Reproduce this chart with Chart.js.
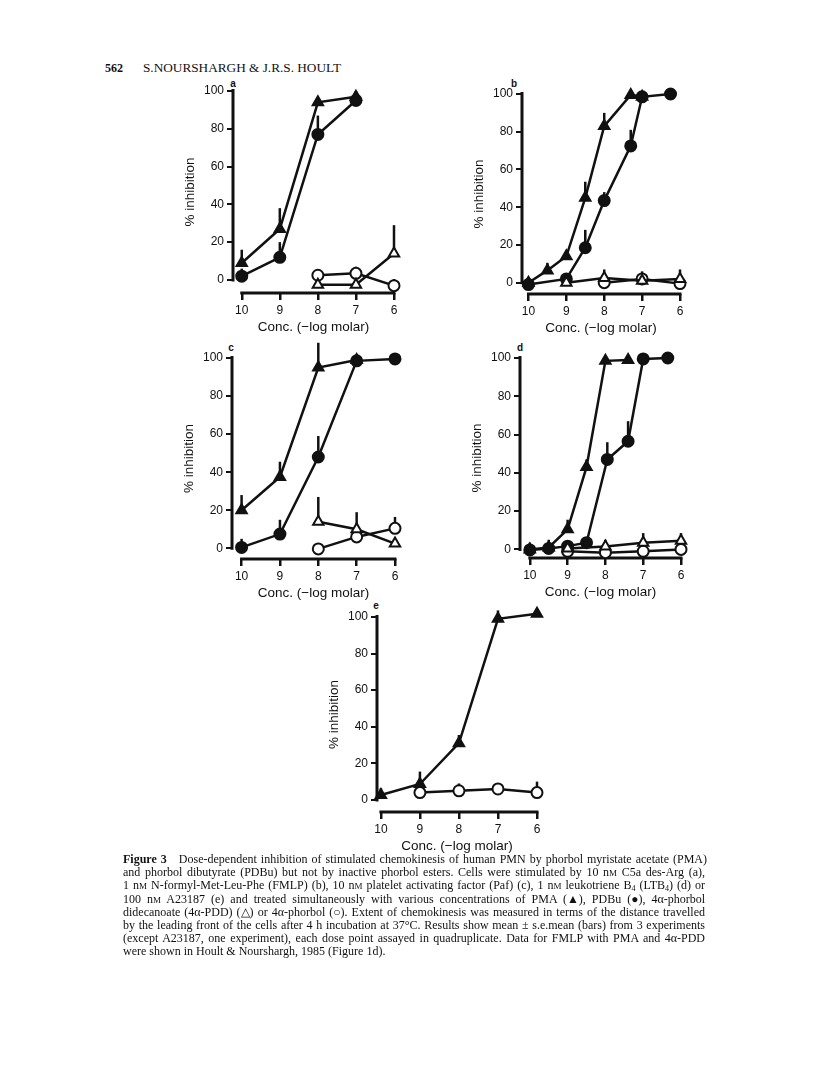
<!DOCTYPE html>
<html>
<head>
<meta charset="utf-8">
<script src="https://cdn.jsdelivr.net/npm/chart.js@4.4.0/dist/chart.umd.min.js"></script>
<style>
  body { margin: 0; background: #fff; }
  #page { position: relative; width: 816px; height: 1073px; overflow: hidden; font-family: "Liberation Serif", "Times New Roman", serif; color: #111; }
  canvas { position: absolute; }
  .letter { position: absolute; font-family: "Liberation Sans", Arial, sans-serif; font-weight: bold; font-size: 10px; transform: translate(-50%, -50%); }
  .head { position: absolute; top: 61px; font-size: 12px; line-height: 14px; white-space: nowrap; transform-origin: left center; }
  .cap { position: absolute; left: 123px; top: 853px; width: 582px; font-size: 12px; line-height: 13.2px; }
  .cap div { white-space: nowrap; height: 13.2px; }
  .cap span.ln { display: inline-block; transform-origin: left center; }
  .sc { font-size: 9px; }
  sub { font-size: 8px; line-height: 0; vertical-align: -2px; }
</style>
</head>
<body>
<div id="page">
  <div class="head" style="left:105px;font-weight:bold">562</div>
  <div class="head fit" data-w="198" style="left:143px">S.NOURSHARGH &amp; J.R.S. HOULT</div>

  <div class="letter" style="left:233px;top:83px">a</div>
  <div class="letter" style="left:514px;top:83px">b</div>
  <div class="letter" style="left:231px;top:347px">c</div>
  <div class="letter" style="left:520px;top:347px">d</div>
  <div class="letter" style="left:376px;top:605px">e</div>

  <canvas id="chartA"></canvas>
  <canvas id="chartB"></canvas>
  <canvas id="chartC"></canvas>
  <canvas id="chartD"></canvas>
  <canvas id="chartE"></canvas>

  <div class="cap">
    <div><span class="ln"><b>Figure 3</b>&nbsp;&nbsp; Dose-dependent inhibition of stimulated chemokinesis of human PMN by phorbol myristate acetate (PMA)</span></div>
    <div><span class="ln">and phorbol dibutyrate (PDBu) but not by inactive phorbol esters. Cells were stimulated by 10 n<span class="sc">M</span> C5a des-Arg (a),</span></div>
    <div><span class="ln">1 n<span class="sc">M</span> N-formyl-Met-Leu-Phe (FMLP) (b), 10 n<span class="sc">M</span> platelet activating factor (Paf) (c), 1 n<span class="sc">M</span> leukotriene B<sub>4</sub> (LTB<sub>4</sub>) (d) or</span></div>
    <div><span class="ln">100 n<span class="sc">M</span> A23187 (e) and treated simultaneously with various concentrations of PMA (▲), PDBu (●), 4α-phorbol</span></div>
    <div><span class="ln">didecanoate (4α-PDD) (△) or 4α-phorbol (○). Extent of chemokinesis was measured in terms of the distance travelled</span></div>
    <div><span class="ln">by the leading front of the cells after 4 h incubation at 37°C. Results show mean ± s.e.mean (bars) from 3 experiments</span></div>
    <div><span class="ln">(except A23187, one experiment), each dose point assayed in quadruplicate. Data for FMLP with PMA and 4α-PDD</span></div>
    <div><span class="ln last">were shown in Hoult &amp; Nourshargh, 1985 (Figure 1d).</span></div>
  </div>
</div>

<script>
// tick labels
const xTicks = [10, 9, 8, 7, 6];
const yTicks = [0, 20, 40, 60, 80, 100];

// a: C5a des-Arg  (values = % inhibition, err = top of s.e.m. bar)
const aPmaX = [10, 9, 8, 7];
const aPma = [9, 27, 94, 97];
const aPmaErr = [16, 38, null, 100];
const aPdbuX = [10, 9, 8, 7];
const aPdbu = [2, 12, 77, 95];
const aPdbuErr = [6, 20, 87, null];
const aPddX = [8, 7, 6];
const aPdd = [-2.5, -2.5, 14];
const aPddErr = [null, null, 29];
const aPhorX = [8, 7, 6];
const aPhor = [2.5, 3.5, -3];
const aPhorErr = [null, 7, 0.5];

// b: FMLP
const bPmaX = [10, 9.5, 9, 8.5, 8, 7.3, 7];
const bPma = [0, 6.5, 14, 45, 83, 99.5, 98.5];
const bPmaErr = [3, 10.5, 16.5, 53.5, 90, null, null];
const bPdbuX = [10, 9, 8.5, 8, 7.3, 7, 6.25];
const bPdbu = [-1, 2, 18.5, 43.5, 72.5, 98.5, 100];
const bPdbuErr = [null, null, 28, 48, 81, null, null];
const bPddX = [9, 8, 7, 6];
const bPdd = [0, 2.5, 1, 2];
const bPddErr = [null, 7, 6, 7];
const bPhorX = [8, 7, 6];
const bPhor = [0, 2, -0.5];
const bPhorErr = [null, null, null];

// c: Paf
const cPmaX = [10, 9, 8, 7];
const cPma = [20, 37.5, 95, 99];
const cPmaErr = [28, 45.5, 108, null];
const cPdbuX = [10, 9, 8, 7, 6];
const cPdbu = [0.5, 7.5, 48, 98.5, 99.5];
const cPdbuErr = [5, 15, 59, null, null];
const cPddX = [8, 7, 6];
const cPdd = [14, 10, 2.5];
const cPddErr = [27, 19, null];
const cPhorX = [8, 7, 6];
const cPhor = [-0.3, 6, 10.5];
const cPhorErr = [null, null, 16.5];

// d: LTB4
const dPmaX = [10, 9.5, 9, 8.5, 8, 7.4];
const dPma = [0, 1, 10.5, 43, 98.5, 99];
const dPmaErr = [3.5, 5, 15.5, 47, null, null];
const dPdbuX = [10, 9.5, 9, 8.5, 7.95, 7.4, 7, 6.35];
const dPdbu = [-0.3, 0.5, 1.7, 3.5, 47, 56.5, 99.5, 100];
const dPdbuErr = [null, null, null, null, 56, 67, null, null];
const dPddX = [9, 8, 7, 6];
const dPdd = [0.5, 1.5, 3.5, 4.5];
const dPddErr = [null, 5, 8.5, 8.5];
const dPhorX = [9, 8, 7, 6];
const dPhor = [-1, -1.7, -1, 0];
const dPhorErr = [null, null, null, null];

// e: A23187
const ePmaX = [10, 9, 8, 7, 6];
const ePma = [2.7, 8.7, 31, 99, 101.8];
const ePmaErr = [6.4, 15.5, 35.5, 103.6, null];
const ePhorX = [9, 8, 7, 6];
const ePhor = [4, 5, 6, 4];
const ePhorErr = [null, 9, 9, 10];

// justify caption lines to the column width, squeeze the ones that are too long
document.querySelectorAll(".cap span.ln").forEach((el) => {
  const target = 582;
  const w = el.getBoundingClientRect().width;
  if (el.classList.contains("last")) return;
  if (w > target) {
    el.style.transform = "scaleX(" + (target / w) + ")";
  } else {
    const gaps = (el.textContent.match(/ /g) || []).length;
    el.style.wordSpacing = ((target - w) / gaps) + "px";
  }
});
document.querySelectorAll(".fit").forEach((el) => {
  const w = el.getBoundingClientRect().width;
  el.style.transform = "scaleX(" + (+el.dataset.w / w) + ")";
});

function mk(xs, ys, errs, kind) {
  const filled = kind === "pma" || kind === "pdbu";
  const tri = kind === "pma" || kind === "pdd";
  return {
    data: xs.map((x, i) => ({x: x, y: ys[i]})),
    errTop: errs,
    borderColor: "#111",
    borderWidth: 2.5,
    pointStyle: tri ? "triangle" : "circle",
    pointRadius: tri ? 6 : 5.5,
    pointBackgroundColor: filled ? "#111" : "#fff",
    pointBorderColor: "#111",
    pointBorderWidth: 2,
    clip: false,
    tension: 0,
  };
}

// error bars (upper half only) and the detached axis lines
const errorBars = {
  id: "errorBars",
  beforeDatasetsDraw(chart) {
    const {ctx, chartArea, scales: {x, y}} = chart;
    ctx.save();
    ctx.strokeStyle = "#111";
    ctx.lineCap = "butt";

    ctx.lineWidth = 3;
    ctx.beginPath();
    ctx.moveTo(chartArea.left, y.getPixelForValue(100) - 2);
    ctx.lineTo(chartArea.left, y.getPixelForValue(0) + 1.5);
    ctx.moveTo(x.getPixelForValue(10) - 1.5, chartArea.bottom);
    ctx.lineTo(x.getPixelForValue(6) + 1.5, chartArea.bottom);
    ctx.stroke();

    ctx.lineWidth = 2.5;
    chart.data.datasets.forEach((ds) => {
      (ds.errTop || []).forEach((e, i) => {
        if (e == null) return;
        const px = x.getPixelForValue(ds.data[i].x);
        ctx.beginPath();
        ctx.moveTo(px, y.getPixelForValue(ds.data[i].y));
        ctx.lineTo(px, y.getPixelForValue(e));
        ctx.stroke();
      });
    });
    ctx.restore();
  },
};

const tickFont = {family: "'Liberation Sans', Arial, sans-serif", size: 12};
const titleFont = {family: "'Liberation Sans', Arial, sans-serif", size: 13.5};

// area = chart area in page pixels: left (y axis line), top (100 %), right (x = 6), bottom (x axis line)
function initPanel(canvasId, area, xMax, yMin, datasets) {
  const canvas = document.getElementById(canvasId);
  const padL = 70, padT = 30, padR = 20, padB = 50;
  canvas.width = area[2] - area[0] + padL + padR;
  canvas.height = area[3] - area[1] + padT + padB;
  canvas.style.left = (area[0] - padL) + "px";
  canvas.style.top = (area[1] - padT) + "px";

  new Chart(canvas.getContext("2d"), {
    type: "line",
    data: {datasets: datasets},
    plugins: [errorBars],
    options: {
      responsive: false,
      animation: false,
      devicePixelRatio: 1,
      layout: {padding: {left: padL - 55, top: padT, right: padR, bottom: padB - 46}},
      plugins: {legend: {display: false}, tooltip: {enabled: false}},
      scales: {
        x: {
          type: "linear",
          reverse: true,
          min: 6,
          max: xMax,
          afterBuildTicks: (s) => { s.ticks = xTicks.map((v) => ({value: v})); },
          afterFit: (s) => { s.height = 46; },
          grid: {drawOnChartArea: false, drawTicks: true, tickLength: 7, color: "#111", lineWidth: 2.5},
          border: {display: false},
          ticks: {font: tickFont, color: "#111", padding: 3, maxRotation: 0, autoSkip: false},
          title: {display: true, text: "Conc. (\u2212log molar)", font: titleFont, color: "#111", padding: {top: 4, bottom: 4}},
        },
        y: {
          min: yMin,
          max: 100,
          afterBuildTicks: (s) => { s.ticks = yTicks.map((v) => ({value: v})); },
          afterFit: (s) => { s.width = 55; },
          grid: {drawOnChartArea: false, drawTicks: true, tickLength: 6, color: "#111", lineWidth: 2},
          border: {display: false},
          ticks: {font: tickFont, color: "#111", padding: 3, autoSkip: false},
          title: {display: true, text: "% inhibition", font: titleFont, color: "#111", padding: {top: 4, bottom: 4}},
        },
      },
    },
  });
}

initPanel("chartA", [233, 91, 394, 293], 10.23, -6.9, [
  mk(aPddX, aPdd, aPddErr, "pdd"),
  mk(aPhorX, aPhor, aPhorErr, "phorbol"),
  mk(aPdbuX, aPdbu, aPdbuErr, "pdbu"),
  mk(aPmaX, aPma, aPmaErr, "pma"),
]);

initPanel("chartB", [522, 94, 680, 294], 10.17, -6.0, [
  mk(bPddX, bPdd, bPddErr, "pdd"),
  mk(bPhorX, bPhor, bPhorErr, "phorbol"),
  mk(bPdbuX, bPdbu, bPdbuErr, "pdbu"),
  mk(bPmaX, bPma, bPmaErr, "pma"),
]);

initPanel("chartC", [232, 358, 395, 559], 10.25, -5.6, [
  mk(cPddX, cPdd, cPddErr, "pdd"),
  mk(cPhorX, cPhor, cPhorErr, "phorbol"),
  mk(cPdbuX, cPdbu, cPdbuErr, "pdbu"),
  mk(cPmaX, cPma, cPmaErr, "pma"),
]);

initPanel("chartD", [520, 358, 681, 558], 10.26, -4.5, [
  mk(dPddX, dPdd, dPddErr, "pdd"),
  mk(dPhorX, dPhor, dPhorErr, "phorbol"),
  mk(dPdbuX, dPdbu, dPdbuErr, "pdbu"),
  mk(dPmaX, dPma, dPmaErr, "pma"),
]);

initPanel("chartE", [377, 617, 537, 812], 10.10, -6.6, [
  mk(ePhorX, ePhor, ePhorErr, "phorbol"),
  mk(ePmaX, ePma, ePmaErr, "pma"),
]);
</script>
</body>
</html>
